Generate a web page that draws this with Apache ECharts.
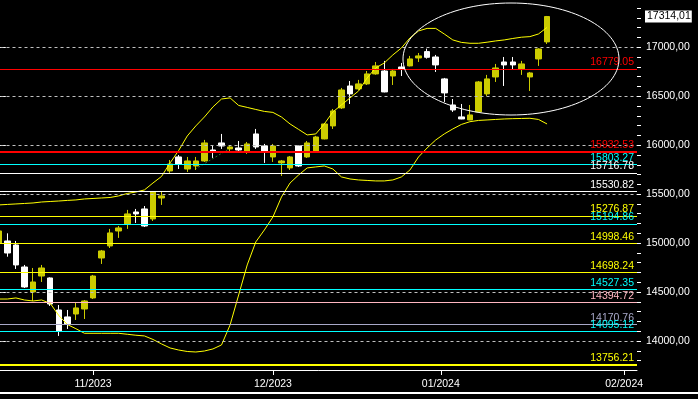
<!DOCTYPE html>
<html><head><meta charset="utf-8">
<script src="https://cdn.jsdelivr.net/npm/echarts@6/dist/echarts.min.js"></script>
<style>html,body{margin:0;padding:0;background:#000;}#c{width:698px;height:399px;}</style>
</head><body><div id="c"></div>
<script>
// trading days (last 10 are empty future slots)
const categories = ['2023-10-17','2023-10-18','2023-10-19','2023-10-20','2023-10-23','2023-10-24','2023-10-25','2023-10-26','2023-10-27','2023-10-30','2023-10-31',
'2023-11-01','2023-11-02','2023-11-03','2023-11-06','2023-11-07','2023-11-08','2023-11-09','2023-11-10','2023-11-13','2023-11-14','2023-11-15','2023-11-16','2023-11-17','2023-11-20','2023-11-21','2023-11-22','2023-11-24','2023-11-27','2023-11-28','2023-11-29','2023-11-30',
'2023-12-01','2023-12-04','2023-12-05','2023-12-06','2023-12-07','2023-12-08','2023-12-11','2023-12-12','2023-12-13','2023-12-14','2023-12-15','2023-12-18','2023-12-19','2023-12-20','2023-12-21','2023-12-22','2023-12-26','2023-12-27','2023-12-28','2023-12-29',
'2024-01-02','2024-01-03','2024-01-04','2024-01-05','2024-01-08','2024-01-09','2024-01-10','2024-01-11','2024-01-12','2024-01-16','2024-01-17','2024-01-18','2024-01-19',
'2024-01-22','2024-01-23','2024-01-24','2024-01-25','2024-01-26','2024-01-29','2024-01-30','2024-01-31','2024-02-01','2024-02-02'];

const openV = [15002,15022,14981,14756,14501,14664,14644,14317,14246,14276,14327,14440,14848,14971,15124,15196,15318,15349,15247,15461,15737,15880,15757,15788,15839,15951,16023,15962,15972,15931,16115,15992,15880,15819,15768,15992,15880,15941,16064,16197,16381,16605,16575,16626,16728,16758,16707,16799,16810,16891,16956,16901,16677,16411,16289,16258,16340,16524,16697,16850,16850,16779,16697,16881,17055];
const closeV = [15124,14899,14777,14552,14603,14746,14378,14103,14174,14338,14409,14664,14920,15104,15155,15298,15298,15175,15522,15482,15808,15808,15839,15839,16023,15931,15992,15982,15951,16013,15982,15941,15992,15839,15880,15788,16023,16084,16217,16350,16564,16524,16626,16728,16810,16544,16758,16779,16881,16912,16898,16820,16534,16360,16268,16309,16646,16677,16789,16820,16820,16830,16738,16983,17314.01];
const lowV = [14985,14861,14736,14542,14409,14603,14358,14052,14123,14215,14225,14429,14787,14950,15053,15145,15206,15165,15226,15390,15717,15757,15727,15747,15829,15870,15962,15931,15921,15911,15962,15819,15829,15686,15747,15778,15870,15935,16060,16166,16370,16421,16564,16615,16720,16540,16615,16707,16805,16850,16884,16748,16442,16340,16265,16255,16335,16503,16646,16605,16769,16718,16554,16810,17034];
const highV = [15140,15100,15022,14777,14746,14777,14650,14368,14317,14389,14419,14675,14930,15145,15175,15339,15349,15379,15530,15522,15849,15900,15880,15880,16054,15992,16115,16002,16043,16033,16166,16013,16013,15849,15890,15995,16043,16095,16227,16370,16585,16656,16667,16758,16850,16861,16779,16840,16912,16942,16986,16922,16687,16472,16421,16411,16656,16718,16830,16901,16901,16861,16748,16990,17320];

const upperBand = [15390,15395,15400,15405,15410,15420,15425,15430,15436,15441,15451,15456,15461,15466,15482,15507,15522,15543,15614,15681,15819,15946,16094,16197,16288,16391,16472,16483,16406,16386,16365,16345,16335,16288,16217,16161,16105,16115,16217,16340,16411,16483,16554,16687,16789,16840,16922,16993,17096,17167,17193,17193,17136,17075,17050,17041,17041,17052,17065,17075,17090,17103,17109,17136,17203];
const lowerBand = [14429,14429,14440,14419,14409,14419,14385,14261,14169,14126,14079,14079,14079,14079,14079,14069,14059,14052,14016,13970,13929,13908,13893,13888,13898,13919,13960,14164,14470,14777,15012,15134,15267,15471,15614,15696,15768,15778,15788,15757,15676,15655,15645,15640,15635,15635,15645,15676,15747,15880,15972,16053,16115,16166,16212,16240,16253,16258,16263,16268,16271,16273,16275,16263,16217];

const levelValues = [16779.05,15932.53,15803.27,15716.78,15530.82,15276.87,15194.86,14998.46,14698.24,14527.35,14394.72,14170.76,14095.12,13756.21];
const levelColors = ['#ff0000','#ff0000','#00ffff','#ffffff','#ffffff','#ffff00','#00ffff','#ffff00','#ffff00','#00ffff','#ffb6c1','#a8a8c8','#00ffff','#ffff00'];
const levelWidths = [1,2,1,1,1,1,1,1,1,1,1,1,1,2];

const trendX = [22.9, 27.2];
const trendY = [15754, 15979];

const yMajor = [14000,14500,15000,15500,16000,16500,17000];
const yMinor = [13800,13900,14000,14100,14200,14300,14400,14500,14600,14700,14800,14900,15000,15100,15200,15300,15400,15500,15600,15700,15800,15900,16000,16100,16200,16300,16400,16500,16600,16700,16800,16900,17000,17100,17200,17300,17400];
const yMin = 13704, yMax = 17483;
const monthTickPos = [11, 32, 51.6, 73];
const monthLabels = ['11/2023','12/2023','01/2024','02/2024'];

const lastClose = closeV[closeV.length - 1];
const FONT = '"Liberation Sans", Arial, sans-serif';
const FS = 10.5;
const fmtComma = v => Number(v).toFixed(2).replace('.', ',');

const candleData = openV.map((o, i) => [o, closeV[i], lowV[i], highV[i]]);

const chart = echarts.init(document.getElementById('c'), null, {renderer: 'canvas'});
chart.setOption({
  backgroundColor: '#000',
  animation: false,
  grid: {left: -5.5, right: 61, top: 0, bottom: 29, outerBoundsMode: 'none', containLabel: false},
  xAxis: [
    {type: 'category', data: categories, boundaryGap: true, show: false},
    {type: 'value', min: -0.5, max: categories.length - 0.5, position: 'bottom',
     axisLine: {show: true, onZero: false, lineStyle: {color: '#fff', width: 1}},
     axisTick: {show: true, length: 5, customValues: monthTickPos, lineStyle: {color: '#fff'}},
     axisLabel: {show: true, customValues: monthTickPos, formatter: v => monthLabels[monthTickPos.indexOf(v)] || '',
                 color: '#fff', fontSize: FS, fontFamily: FONT, margin: 9},
     splitLine: {show: false}}
  ],
  yAxis: [
    {type: 'value', position: 'right', min: yMin, max: yMax,
     axisLine: {show: true, lineStyle: {color: '#fff', width: 1}},
     axisTick: {show: true, length: 7, customValues: yMajor, lineStyle: {color: '#fff'}},
     axisLabel: {show: true, customValues: yMajor, formatter: fmtComma, color: '#fff', fontSize: FS, fontFamily: FONT, margin: 9},
     splitLine: {show: false}},
    {type: 'value', position: 'right', min: yMin, max: yMax,
     axisLine: {show: false},
     axisTick: {show: true, length: 4, customValues: yMinor, lineStyle: {color: '#fff'}},
     axisLabel: {show: false}, splitLine: {show: false}},
    {type: 'value', position: 'right', min: yMin, max: yMax,
     axisLine: {show: false}, axisTick: {show: false},
     axisLabel: {show: true, customValues: [lastClose], formatter: fmtComma, color: '#000', backgroundColor: '#fff',
                 padding: [1, 1, 0, 2], fontSize: FS, fontFamily: FONT, margin: 8},
     splitLine: {show: false}}
  ],
  series: [
    {type: 'line', xAxisIndex: 0, yAxisIndex: 0, data: lowerBand, symbol: 'none', silent: true,
     lineStyle: {opacity: 0}, z: 1,
     markLine: {silent: true, symbol: ['none', 'none'], animation: false,
       data: yMajor.map(v => ({yAxis: v, lineStyle: {color: '#c0c0c0', width: 1, type: [3, 3]}, label: {show: false}}))}},
    {type: 'line', xAxisIndex: 1, yAxisIndex: 0, data: trendX.map((x, i) => [x, trendY[i]]), symbol: 'none', silent: true,
     lineStyle: {color: '#2f7a2f', width: 1, type: [2, 2]}, z: 2},
    {type: 'candlestick', xAxisIndex: 0, yAxisIndex: 0, data: candleData, barWidth: 6, z: 3,
     itemStyle: {color: '#cccc00', color0: '#ffffff', borderColor: '#cccc00', borderColor0: '#ffffff', borderWidth: 1}},
    {type: 'line', xAxisIndex: 0, yAxisIndex: 0, data: upperBand, symbol: 'none', silent: true,
     lineStyle: {color: '#ffff00', width: 1}, z: 4},
    {type: 'line', xAxisIndex: 0, yAxisIndex: 0, data: lowerBand, symbol: 'none', silent: true,
     lineStyle: {color: '#ffff00', width: 1}, z: 4},
    {type: 'line', xAxisIndex: 0, yAxisIndex: 0, data: lowerBand, symbol: 'none', silent: true,
     lineStyle: {opacity: 0}, z: 5,
     markLine: {silent: true, symbol: ['none', 'none'], animation: false,
       data: levelValues.map((v, k) => ({yAxis: v,
         lineStyle: {color: levelColors[k], width: levelWidths[k], type: 'solid'},
         label: {show: true, position: 'insideEndTop', formatter: v.toFixed(2), color: levelColors[k],
                 fontSize: FS, fontFamily: FONT, distance: [3, 1]}}))}}
  ],
  graphic: [
    {type: 'ellipse', shape: {cx: 511, cy: 59, rx: 108, ry: 56}, style: {fill: null, stroke: '#ffffff', lineWidth: 1}, z: 100, silent: true},
    {type: 'rect', shape: {x: 0, y: 392, width: 698, height: 2}, style: {fill: '#ffffff'}, z: 100, silent: true}
  ]
});
</script></body></html>
